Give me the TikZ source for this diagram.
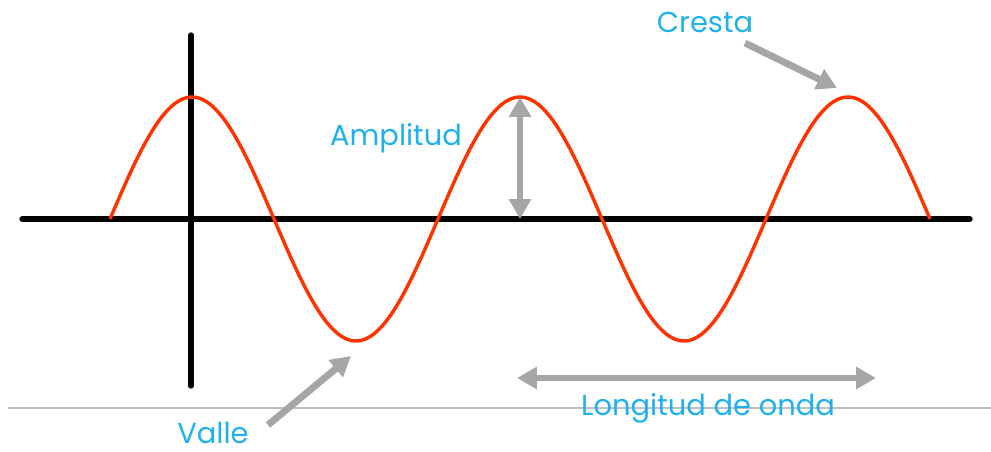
\documentclass[tikz,border=0pt]{standalone}
\usepackage{fontspec}
\usepackage{xcolor}
\usepackage{tikz}
\usetikzlibrary{positioning,arrows.meta}
\newfontfamily\labfont{Poppins}
\definecolor{cwave}{HTML}{FF3300}
\definecolor{clabel}{HTML}{1FB1EE}
\definecolor{cpoint}{HTML}{A6A6A6}
\definecolor{crule}{HTML}{C0C0C0}

\begin{document}
\begin{tikzpicture}[
  x=0.0265cm, y=-0.0265cm,
  axis/.style={line width=4pt, line cap=round},
  wave/.style={draw=cwave, line width=2.6pt},
  lab/.style={font=\labfont\fontsize{21.8}{24}\selectfont, text=clabel, inner sep=0pt},
  pointer/.style={draw=cpoint, line width=5.2pt, -{Triangle[length=15pt,width=16pt]}},
  span/.style={pointer, {Triangle[length=15pt,width=16pt]}-{Triangle[length=15pt,width=16pt]}},
]
\useasboundingbox (0,0) rectangle (991,451);
% ---------- rule and axes ----------
\draw[crule, line width=0.8pt] (8,408) -- (991,408);
\coordinate (xl) at (22,219);
\coordinate (xr) at (970,219);
\coordinate (yt) at (191,35);
\coordinate (yb) at (191,386);
\draw[axis] (xl) -- (xr);
\draw[axis] (yt) -- (yb);
% ---------- wave ----------
\draw[wave] plot[domain=110:930, samples=240] (\x, {219-122*cos(1.097561*(\x-192))});
\coordinate (crest) at (520,97);
\coordinate (base) at (520,219);
% ---------- labels ----------
\node[lab] (cresta) at (705,22) {Cresta};
\node[lab] (amplitud) at (396,138) {Amplitud};
\node[lab] (valle) at (213,433) {Valle};
\node[lab] (longitud) at (708,408) {Longitud de onda};
% ---------- pointers ----------
\coordinate (ctail) at (745,43);
\coordinate (ctip) at (837,88);
\coordinate (vtail) at (268,425);
\coordinate (vtip) at (351,356);
\coordinate (lleft) at (517,378);
\coordinate (lright) at (876,378);
\draw[pointer] (ctail) -- (ctip);
\draw[pointer] (vtail) -- (vtip);
\draw[span] (crest) -- (base);
\draw[span] (lleft) -- (lright);
\end{tikzpicture}
\end{document}
